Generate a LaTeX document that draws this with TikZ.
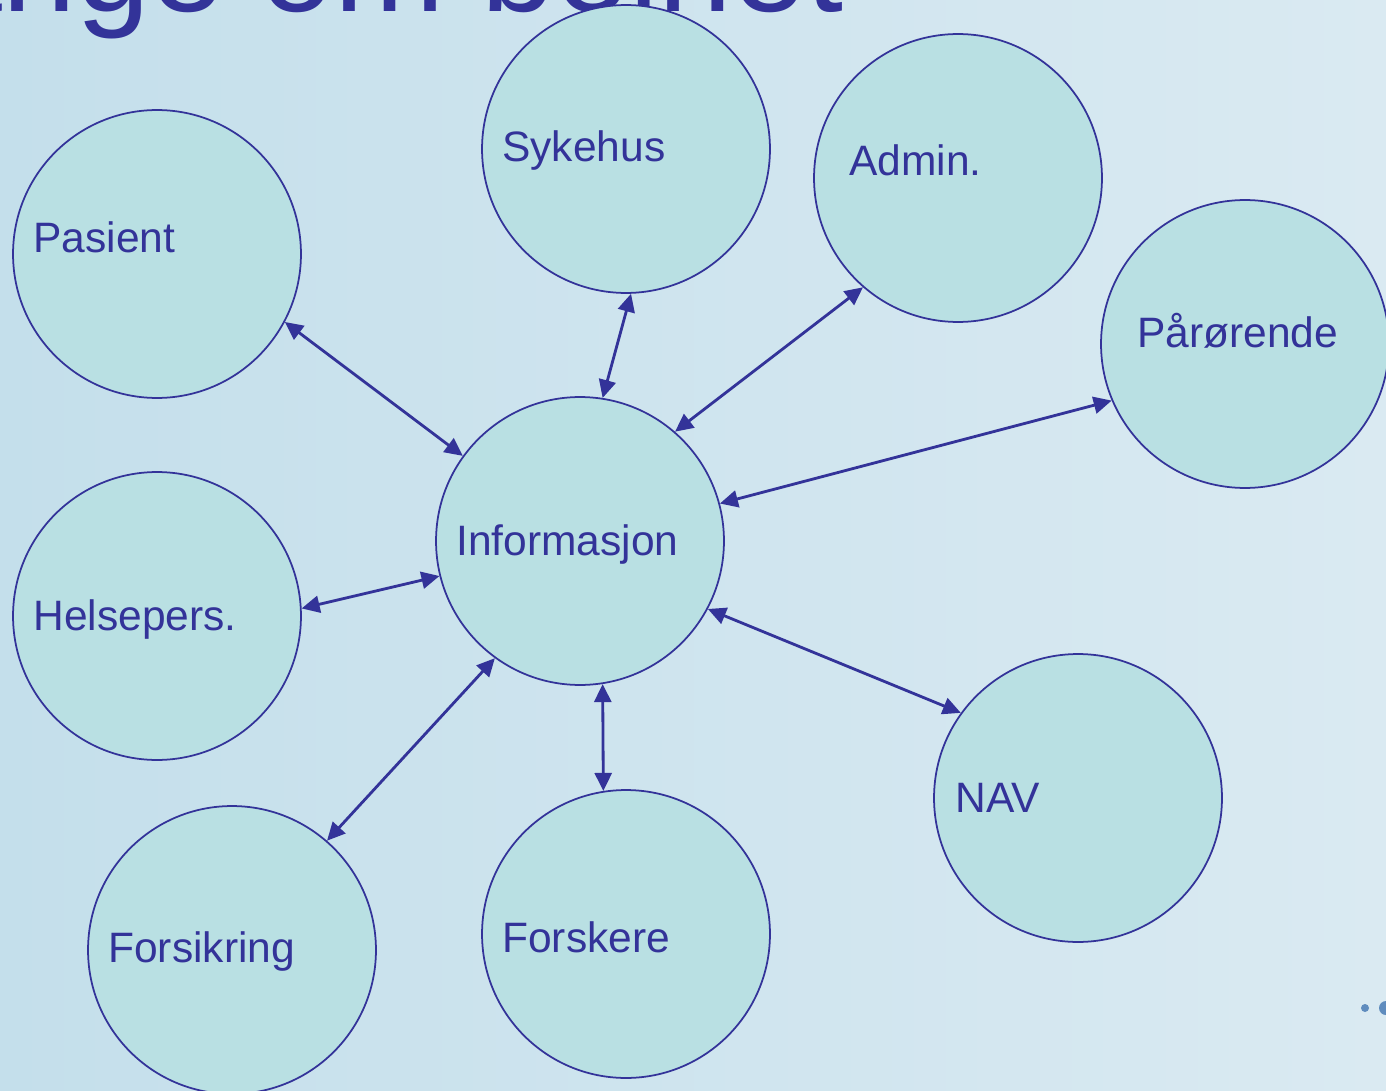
\documentclass[tikz,border=0pt]{standalone}
\usepackage{fontspec}
\setmainfont{Liberation Sans}
\usepackage{xcolor}
\usepackage{tikz}
\usetikzlibrary{shapes,positioning,calc,arrows.meta}
\definecolor{ink}{RGB}{51,51,153}
\definecolor{bubblefill}{RGB}{185,224,227}
\definecolor{bgleft}{RGB}{196,223,235}
\definecolor{bgright}{RGB}{218,234,242}
\definecolor{dotblue}{RGB}{95,140,190}
\tikzset{
    bubble/.style={circle, draw=ink, fill=bubblefill, line width=1pt, minimum size=5.76cm, inner sep=0pt},
    lbl/.style={anchor=base west, inner sep=0pt, text=ink, font=\fontsize{24.2}{29}\selectfont},
    link/.style={<->, draw=ink, line width=1.6pt, >={Triangle[length=0.36cm,width=0.34cm]}}
}

\begin{document}
\begin{tikzpicture}[x=0.02cm, y=-0.02cm]
    \shade[left color=bgleft, right color=bgright] (0,0) rectangle (1386,1091);
    \useasboundingbox (0,0) rectangle (1386,1091);
    \begin{scope}
        \clip (0,0) rectangle (1386,1091);
        \node[anchor=base west, inner sep=0pt, text=ink, font=\fontsize{75.5}{80}\selectfont] (title) at (-182,12) {Mange om beinet};
        \fill[dotblue] (1365,1008) circle (4);
        \fill[dotblue] (1386,1008) circle (7);
    \end{scope}
    \node[bubble] (pas) at (157,254) {};
    \node[bubble] (syk) at (626,149) {};
    \node[bubble] (adm) at (958,178) {};
    \node[bubble] (par) at (1245,344) {};
    \node[bubble] (inf) at (580,541) {};
    \node[bubble] (hel) at (157,616) {};
    \node[bubble] (nav) at (1078,798) {};
    \node[bubble] (fsr) at (232,950) {};
    \node[bubble] (fsk) at (626,934) {};
    \node[lbl] (pastxt) at ($(pas.center)+(-124,-1)$) {Pasient};
    \node[lbl] (syktxt) at ($(syk.center)+(-124,13)$) {Sykehus};
    \node[lbl] (admtxt) at ($(adm.center)+(-109,-2)$) {Admin.};
    \node[lbl] (partxt) at ($(par.center)+(-108,3)$) {Pårørende};
    \node[lbl] (inftxt) at ($(inf.center)+(-124,14)$) {Informasjon};
    \node[lbl] (heltxt) at ($(hel.center)+(-124,14)$) {Helsepers.};
    \node[lbl] (navtxt) at ($(nav.center)+(-123,14)$) {NAV};
    \node[lbl] (fsrtxt) at ($(fsr.center)+(-124,12)$) {Forsikring};
    \node[lbl] (fsktxt) at ($(fsk.center)+(-124,18)$) {Forskere};
    \draw[link] (pas.-28) -- (inf.144);
    \draw[link] (syk.-88) -- (inf.81);
    \draw[link] (adm.229) -- (inf.49);
    \draw[link] (par.203) -- (inf.15);
    \draw[link] (hel.3) -- (inf.194);
    \draw[link] (fsr.49) -- (inf.234);
    \draw[link] (fsk.99) -- (inf.-81);
    \draw[link] (nav.144) -- (inf.-28);
\end{tikzpicture}
\end{document}
